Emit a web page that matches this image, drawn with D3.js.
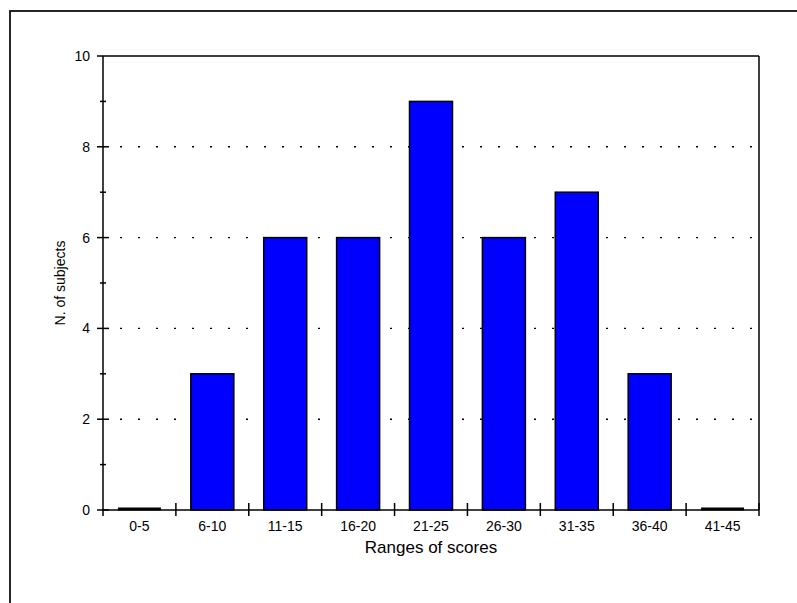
<!DOCTYPE html>
<html>
<head>
<meta charset="utf-8">
<script src="https://cdn.jsdelivr.net/npm/d3@7"></script>
<style>
  html, body { margin: 0; padding: 0; background: #fff; }
  svg { display: block; }
  text { font-family: "Liberation Sans", Arial, sans-serif; fill: #000; }
</style>
</head>
<body>
<svg id="chart" width="797" height="603"></svg>
<script>
const categories = ["0-5", "6-10", "11-15", "16-20", "21-25", "26-30", "31-35", "36-40", "41-45"];
const subjects = [0, 3, 6, 6, 9, 6, 7, 3, 0];
const yMajorTicks = [0, 2, 4, 6, 8, 10];
const yMinorTicks = [1, 3, 5, 7, 9];
const gridValues = [2, 4, 6, 8];
const xTitle = "Ranges of scores";
const yTitle = "N. of subjects";

(function () {
const svg = d3.select("#chart");
const pL = 103, pR = 759, pT = 56, pB = 510;

// outer frame (extends beyond the window on right/bottom)
svg.append("rect").attr("x", 10).attr("y", 11).attr("width", 900).attr("height", 700)
  .attr("fill", "none").attr("stroke", "#000").attr("stroke-width", 1.7);

const x = d3.scaleBand().domain(categories).range([pL, pR]).paddingInner(0.41).paddingOuter(0.205);
const xb = d3.scaleLinear().domain([0, categories.length]).range([pL, pR]);
const y = d3.scaleLinear().domain([0, 10]).range([pB, pT]);

// dotted gridlines
svg.append("g").selectAll("line").data(gridValues).join("line")
  .attr("x1", pL + 17).attr("x2", pR)
  .attr("y1", d => y(d)).attr("y2", d => y(d))
  .attr("stroke", "#000").attr("stroke-width", 1.4).attr("stroke-dasharray", "2,16");

const rows = subjects.map((v, i) => ({c: categories[i], v}));

// bars
svg.append("g").selectAll("rect").data(rows).join("rect")
  .attr("x", d => x(d.c)).attr("width", x.bandwidth())
  .attr("y", d => y(d.v)).attr("height", d => y(0) - y(d.v))
  .attr("fill", "#0000ff").attr("stroke", "#000").attr("stroke-width", 1.5);

// zero-height bars drawn as thick line
svg.append("g").selectAll("line").data(rows.filter(d => d.v === 0)).join("line")
  .attr("x1", d => x(d.c)).attr("x2", d => x(d.c) + x.bandwidth())
  .attr("y1", y(0) - 1).attr("y2", y(0) - 1)
  .attr("stroke", "#000").attr("stroke-width", 3);

// frame of plot area
const frame = svg.append("g").attr("stroke", "#000").attr("stroke-width", 1.5).attr("fill", "none");
frame.append("line").attr("x1", pL).attr("x2", pL).attr("y1", pT).attr("y2", pB);
frame.append("line").attr("x1", pL).attr("x2", pR).attr("y1", pB).attr("y2", pB);
frame.append("line").attr("x1", pL).attr("x2", pR).attr("y1", pT).attr("y2", pT);
frame.append("line").attr("x1", pR).attr("x2", pR).attr("y1", pT).attr("y2", pB);

// y major ticks
frame.selectAll(".ymaj").data(yMajorTicks).join("line").attr("class", "ymaj")
  .attr("x1", pL - 6).attr("x2", d => d === 10 ? pL : pL + 6)
  .attr("y1", d => y(d)).attr("y2", d => y(d));
frame.selectAll(".ymin").data(yMinorTicks).join("line").attr("class", "ymin")
  .attr("x1", pL - 3).attr("x2", pL + 3)
  .attr("y1", d => y(d)).attr("y2", d => y(d));
// x ticks at band boundaries
frame.selectAll(".xt").data(d3.range(categories.length + 1)).join("line").attr("class", "xt")
  .attr("x1", d => xb(d)).attr("x2", d => xb(d))
  .attr("y1", d => d === 0 ? pB : pB - 7).attr("y2", pB + 6);

// y tick labels
svg.append("g").selectAll("text").data(yMajorTicks).join("text")
  .attr("x", pL - 13).attr("y", d => y(d)).attr("dy", "0.35em")
  .attr("text-anchor", "end").attr("font-size", 14).text(d => d);

// x tick labels
svg.append("g").selectAll("text").data(categories).join("text")
  .attr("x", d => x(d) + x.bandwidth() / 2).attr("y", 531)
  .attr("text-anchor", "middle").attr("font-size", 14).text(d => d);

// axis titles
svg.append("text").attr("x", (pL + pR) / 2).attr("y", 553)
  .attr("text-anchor", "middle").attr("font-size", 17).text(xTitle);
svg.append("text").attr("transform", `translate(65,${(pT + pB) / 2}) rotate(-90)`)
  .attr("text-anchor", "middle").attr("font-size", 14).text(yTitle);
})();
</script>
</body>
</html>
